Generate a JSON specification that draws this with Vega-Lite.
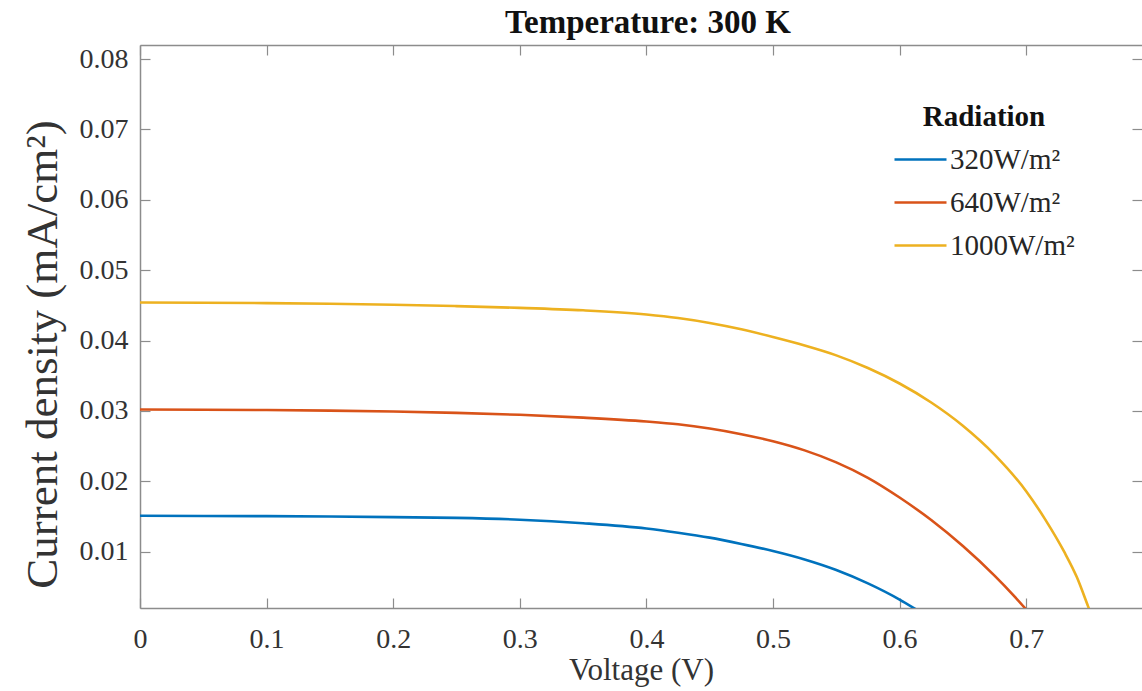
{
  "$schema": "https://vega.github.io/schema/vega-lite/v6.json",
  "width": 1002,
  "height": 563,
  "autosize": {"type": "none"},
  "padding": {"left": 140, "top": 45, "right": 0, "bottom": 83},
  "background": "white",
  "title": {
    "text": "Temperature: 300 K",
    "font": "Liberation Serif",
    "fontSize": 33,
    "fontWeight": "bold",
    "color": "#111111",
    "anchor": "middle",
    "baseline": "alphabetic",
    "offset": 11,
    "dx": 7,
    "dy": 33
  },
  "config": {
    "view": {"stroke": null},
    "axis": {
      "domainColor": "#8c8c8c",
      "domainWidth": 1.5,
      "tickColor": "#8c8c8c",
      "tickWidth": 1.2,
      "tickSize": -10,
      "grid": false,
      "labelFont": "Liberation Serif",
      "labelFontSize": 28,
      "labelColor": "#333333",
      "titleFont": "Liberation Serif",
      "titleFontWeight": "normal",
      "titleColor": "#333333"
    }
  },
  "data": {
    "values": [
      {"V": 0, "J": 0.0151, "R": "320W/m²"},
      {"V": 0.05, "J": 0.01508, "R": "320W/m²"},
      {"V": 0.1, "J": 0.01505, "R": "320W/m²"},
      {"V": 0.15, "J": 0.015, "R": "320W/m²"},
      {"V": 0.2, "J": 0.01492, "R": "320W/m²"},
      {"V": 0.25, "J": 0.0148, "R": "320W/m²"},
      {"V": 0.3, "J": 0.01455, "R": "320W/m²"},
      {"V": 0.35, "J": 0.01405, "R": "320W/m²"},
      {"V": 0.4, "J": 0.0133, "R": "320W/m²"},
      {"V": 0.425, "J": 0.0127, "R": "320W/m²"},
      {"V": 0.45, "J": 0.012, "R": "320W/m²"},
      {"V": 0.475, "J": 0.0111, "R": "320W/m²"},
      {"V": 0.5, "J": 0.0101, "R": "320W/m²"},
      {"V": 0.525, "J": 0.0089, "R": "320W/m²"},
      {"V": 0.55, "J": 0.0074, "R": "320W/m²"},
      {"V": 0.575, "J": 0.0055, "R": "320W/m²"},
      {"V": 0.6, "J": 0.0032, "R": "320W/m²"},
      {"V": 0.613, "J": 0.0018, "R": "320W/m²"},

      {"V": 0, "J": 0.0302, "R": "640W/m²"},
      {"V": 0.05, "J": 0.03018, "R": "640W/m²"},
      {"V": 0.1, "J": 0.03013, "R": "640W/m²"},
      {"V": 0.15, "J": 0.03005, "R": "640W/m²"},
      {"V": 0.2, "J": 0.02992, "R": "640W/m²"},
      {"V": 0.25, "J": 0.02973, "R": "640W/m²"},
      {"V": 0.3, "J": 0.02945, "R": "640W/m²"},
      {"V": 0.35, "J": 0.02905, "R": "640W/m²"},
      {"V": 0.4, "J": 0.0285, "R": "640W/m²"},
      {"V": 0.425, "J": 0.0281, "R": "640W/m²"},
      {"V": 0.45, "J": 0.0275, "R": "640W/m²"},
      {"V": 0.475, "J": 0.0267, "R": "640W/m²"},
      {"V": 0.5, "J": 0.0257, "R": "640W/m²"},
      {"V": 0.525, "J": 0.0244, "R": "640W/m²"},
      {"V": 0.55, "J": 0.0227, "R": "640W/m²"},
      {"V": 0.575, "J": 0.0205, "R": "640W/m²"},
      {"V": 0.6, "J": 0.0177, "R": "640W/m²"},
      {"V": 0.625, "J": 0.0145, "R": "640W/m²"},
      {"V": 0.65, "J": 0.0108, "R": "640W/m²"},
      {"V": 0.675, "J": 0.0066, "R": "640W/m²"},
      {"V": 0.69, "J": 0.0038, "R": "640W/m²"},
      {"V": 0.7, "J": 0.0018, "R": "640W/m²"},

      {"V": 0, "J": 0.0454, "R": "1000W/m²"},
      {"V": 0.05, "J": 0.04538, "R": "1000W/m²"},
      {"V": 0.1, "J": 0.04532, "R": "1000W/m²"},
      {"V": 0.15, "J": 0.04523, "R": "1000W/m²"},
      {"V": 0.2, "J": 0.0451, "R": "1000W/m²"},
      {"V": 0.25, "J": 0.0449, "R": "1000W/m²"},
      {"V": 0.3, "J": 0.04465, "R": "1000W/m²"},
      {"V": 0.35, "J": 0.0443, "R": "1000W/m²"},
      {"V": 0.4, "J": 0.0437, "R": "1000W/m²"},
      {"V": 0.425, "J": 0.0432, "R": "1000W/m²"},
      {"V": 0.45, "J": 0.0425, "R": "1000W/m²"},
      {"V": 0.475, "J": 0.0416, "R": "1000W/m²"},
      {"V": 0.5, "J": 0.0405, "R": "1000W/m²"},
      {"V": 0.525, "J": 0.0393, "R": "1000W/m²"},
      {"V": 0.55, "J": 0.0379, "R": "1000W/m²"},
      {"V": 0.575, "J": 0.0361, "R": "1000W/m²"},
      {"V": 0.6, "J": 0.0339, "R": "1000W/m²"},
      {"V": 0.625, "J": 0.0312, "R": "1000W/m²"},
      {"V": 0.65, "J": 0.0279, "R": "1000W/m²"},
      {"V": 0.675, "J": 0.0238, "R": "1000W/m²"},
      {"V": 0.7, "J": 0.0186, "R": "1000W/m²"},
      {"V": 0.715, "J": 0.0146, "R": "1000W/m²"},
      {"V": 0.73, "J": 0.01, "R": "1000W/m²"},
      {"V": 0.74, "J": 0.0064, "R": "1000W/m²"},
      {"V": 0.749, "J": 0.0022, "R": "1000W/m²"},
      {"V": 0.7505, "J": 0.0015, "R": "1000W/m²"}
    ]
  },
  "layer": [
    {
      "mark": {"type": "line", "strokeWidth": 2.6, "clip": true, "interpolate": "monotone"},
      "encoding": {
        "x": {
          "field": "V",
          "type": "quantitative",
          "scale": {"domain": [0, 0.7915], "nice": false, "zero": false},
          "axis": {
            "orient": "bottom",
            "values": [0, 0.1, 0.2, 0.3, 0.4, 0.5, 0.6, 0.7],
            "format": "~g",
            "labelPadding": 27,
            "labelFlush": false,
            "title": "Voltage (V)",
            "titleFontSize": 31,
            "titlePadding": 2
          }
        },
        "y": {
          "field": "J",
          "type": "quantitative",
          "scale": {"domain": [0.002, 0.082], "nice": false, "zero": false},
          "axis": {
            "orient": "left",
            "values": [0.01, 0.02, 0.03, 0.04, 0.05, 0.06, 0.07, 0.08],
            "format": ".2f",
            "labelPadding": 22,
            "labelFlush": false,
            "title": "Current density (mA/cm²)",
            "titleFontSize": 45,
            "titlePadding": 14,
            "titleY": 309
          }
        },
        "color": {
          "field": "R",
          "type": "nominal",
          "scale": {
            "domain": ["320W/m²", "640W/m²", "1000W/m²"],
            "range": ["#0072BD", "#D95319", "#EDB120"]
          },
          "legend": {
            "orient": "none",
            "legendX": 753,
            "legendY": 58,
            "padding": 0,
            "title": "Radiation",
            "titleFont": "Liberation Serif",
            "titleFontSize": 29,
            "titleFontWeight": "bold",
            "titleColor": "#111111",
            "titleAnchor": "middle",
            "titleAlign": "center",
            "titlePadding": 0,
            "labelFont": "Liberation Serif",
            "labelFontSize": 29,
            "labelColor": "#262626",
            "labelOffset": 2,
            "rowPadding": -6,
            "symbolType": "stroke",
            "symbolSize": 2704,
            "symbolStrokeWidth": 2.6
          }
        }
      }
    },
    {
      "mark": {"type": "line", "opacity": 0},
      "encoding": {
        "x": {
          "field": "V",
          "type": "quantitative",
          "axis": {
            "orient": "top",
            "values": [0, 0.1, 0.2, 0.3, 0.4, 0.5, 0.6, 0.7],
            "labels": false,
            "title": null
          }
        },
        "y": {
          "field": "J",
          "type": "quantitative",
          "axis": {
            "orient": "right",
            "values": [0.01, 0.02, 0.03, 0.04, 0.05, 0.06, 0.07, 0.08],
            "labels": false,
            "domain": false,
            "title": null
          }
        }
      }
    }
  ],
  "resolve": {"axis": {"x": "independent", "y": "independent"}}
}
